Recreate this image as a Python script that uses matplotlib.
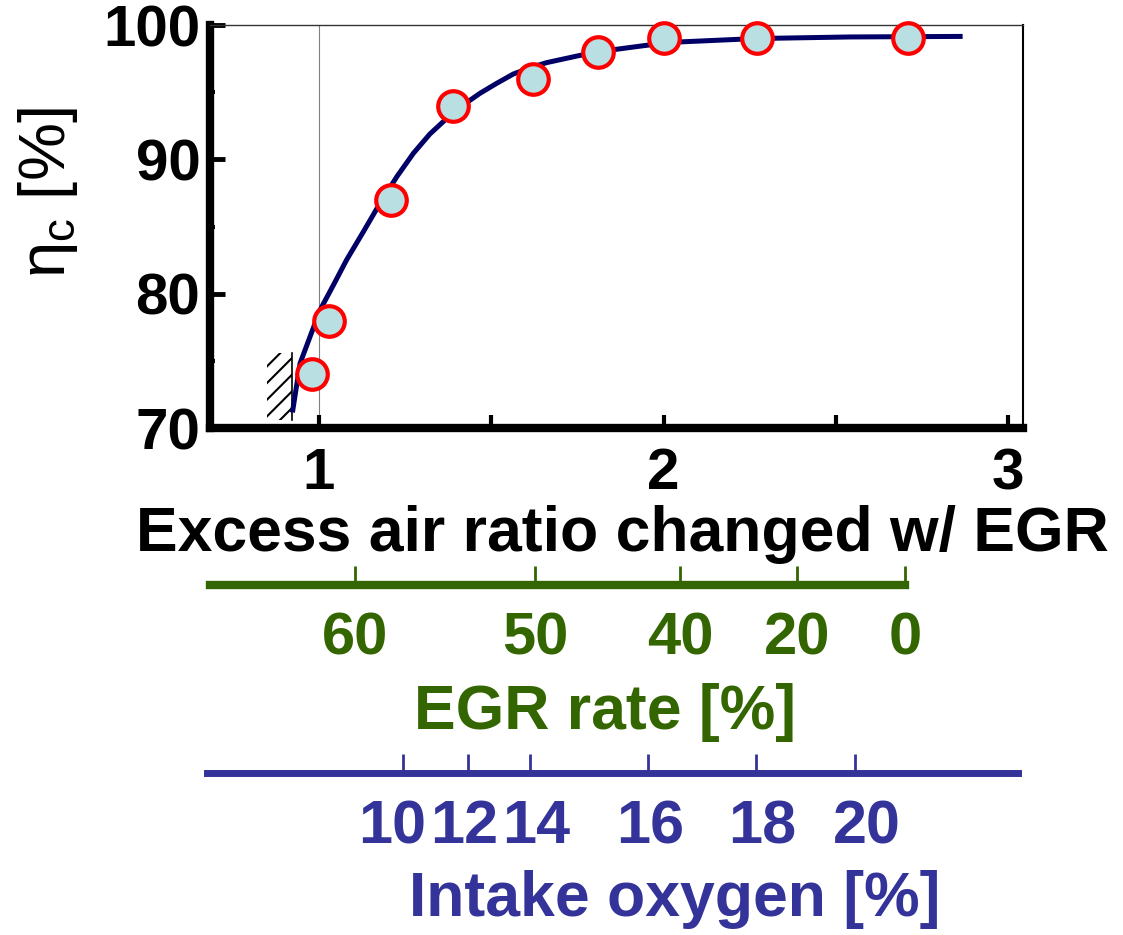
import matplotlib
matplotlib.use("Agg")
import matplotlib.pyplot as plt
from matplotlib.patches import Rectangle
from matplotlib.transforms import ScaledTranslation

plt.rcParams['font.family'] = ['Liberation Sans', 'DejaVu Sans']
plt.rcParams['mathtext.fontset'] = 'custom'
plt.rcParams['mathtext.rm'] = 'Liberation Sans'
plt.rcParams['mathtext.it'] = 'Liberation Sans'
plt.rcParams['hatch.linewidth'] = 1.5

# measured points: excess air ratio vs combustion efficiency
lam_pts = [0.98, 1.03, 1.21, 1.39, 1.62, 1.81, 2.00, 2.27, 2.71]
eta_pts = [74, 78, 87, 94, 96, 98, 99, 99, 99]

# fitted curve
lam_fit = [0.924, 0.945, 0.974, 1.003, 1.042, 1.080, 1.129, 1.177, 1.226,
           1.274, 1.322, 1.371, 1.419, 1.467, 1.516, 1.564, 1.613, 1.661,
           1.758, 1.854, 1.951, 2.048, 2.266, 2.541, 2.861]
eta_fit = [71.34, 74.81, 76.80, 78.78, 80.65, 82.51, 84.62, 86.73, 88.71,
           90.45, 91.89, 93.05, 94.05, 94.91, 95.66, 96.35, 96.82, 97.20,
           97.74, 98.16, 98.49, 98.74, 98.99, 99.11, 99.15]

# secondary scales (position given in excess air ratio)
egr_labels = ["60", "50", "40", "20", "0"]
egr_pos = [1.104, 1.627, 2.048, 2.387, 2.701]
o2_labels = ["10", "12", "14", "16", "18", "20"]
o2_pos = [1.244, 1.432, 1.612, 1.955, 2.268, 2.556]

green = "#336600"
blue = "#333399"
xlim = (0.6836, 3.0435)

W, H = 1123, 935
fig = plt.figure(figsize=(W / 100, H / 100), dpi=100)

# main axes
ax = fig.add_axes([210 / W, 1 - 428 / H, 813 / W, 403 / H])
ax.set_xlim(*xlim)
ax.set_ylim(70, 100)

ax.axvline(1, color="gray", lw=0.8, zorder=1)
ax.add_patch(Rectangle((0.849, 70.6), 0.072, 5.0, hatch="//", fill=False,
                       edgecolor="black", linewidth=0, zorder=1))
ax.plot([0.921, 0.921], [70.6, 75.6], color="black", lw=1.2, zorder=1)

ax.plot(lam_fit, eta_fit, color="#000066", lw=3.6, zorder=2,
        solid_joinstyle="round")
ax.plot(lam_pts, eta_pts, "o", ms=22, mfc="#b9dfe3", mec="red", mew=3,
        zorder=3, clip_on=False)

ax.spines["left"].set_linewidth(6)
ax.spines["bottom"].set_linewidth(6)
ax.spines["top"].set_linewidth(1)
ax.spines["top"].set_color("#333333")
ax.spines["right"].set_linewidth(1.5)

ax.set_xticks([1, 2, 3])
ax.set_xticks([1.5, 2.5], minor=True)
ax.set_xticklabels(["1", "2", "3"])
ax.set_yticks([70, 80, 90, 100])
ax.set_yticks([75, 85, 95], minor=True)
ax.tick_params(axis="x", which="both", direction="in", length=9.5, width=3,
               pad=14, labelsize=42)
ax.tick_params(axis="y", which="major", direction="in", length=11, width=3.5,
               pad=7, labelsize=42)
ax.tick_params(axis="y", which="minor", direction="in", length=3.6, width=3)
for lab in ax.get_xticklabels() + ax.get_yticklabels():
    lab.set_fontweight("bold")

ax.set_xlabel("Excess air ratio changed w/ EGR", fontsize=45, fontweight="bold")
ax.xaxis.set_label_coords(0.507, -0.19)
ax.set_ylabel(r"$\eta_{\rm c}$ [%]", fontsize=47)
ax.yaxis.set_label_coords(-0.16, 0.585)


def scale_axis(ypix, pos, labels, color, lw, size, bounds, label, lx, ly,
               shifts=None):
    a = fig.add_axes([210 / W, 1 - ypix / H, 813 / W, 100 / H])
    a.set_xlim(*xlim)
    a.patch.set_visible(False)
    for s in ["top", "left", "right"]:
        a.spines[s].set_visible(False)
    a.spines["bottom"].set_color(color)
    a.spines["bottom"].set_linewidth(lw)
    a.spines["bottom"].set_bounds(*bounds)
    a.set_yticks([])
    a.set_xticks(pos)
    a.set_xticklabels(labels, fontweight="bold")
    a.tick_params(axis="x", direction="in", length=14, width=2, color=color,
                  labelcolor=color, labelsize=size, pad=19)
    if shifts:
        # nudge crowded labels apart (pixels)
        for lab, dx in zip(a.get_xticklabels(), shifts):
            lab.set_transform(lab.get_transform() +
                              ScaledTranslation(dx / 100, 0, fig.dpi_scale_trans))
    a.set_xlabel(label, fontsize=45, fontweight="bold", color=color)
    a.xaxis.set_label_coords(lx, ly)
    return a


scale_axis(585, egr_pos, egr_labels, green, 6, 43, (0.684, 2.701),
           "EGR rate [%]", 0.486, -0.98)
scale_axis(773, o2_pos, o2_labels, blue, 5, 44, (0.675, 3.029),
           "Intake oxygen [%]", 0.572, -0.97,
           shifts=[-11, -4, 6, 2, 6, 12])

fig.savefig("out.png", dpi=100)
